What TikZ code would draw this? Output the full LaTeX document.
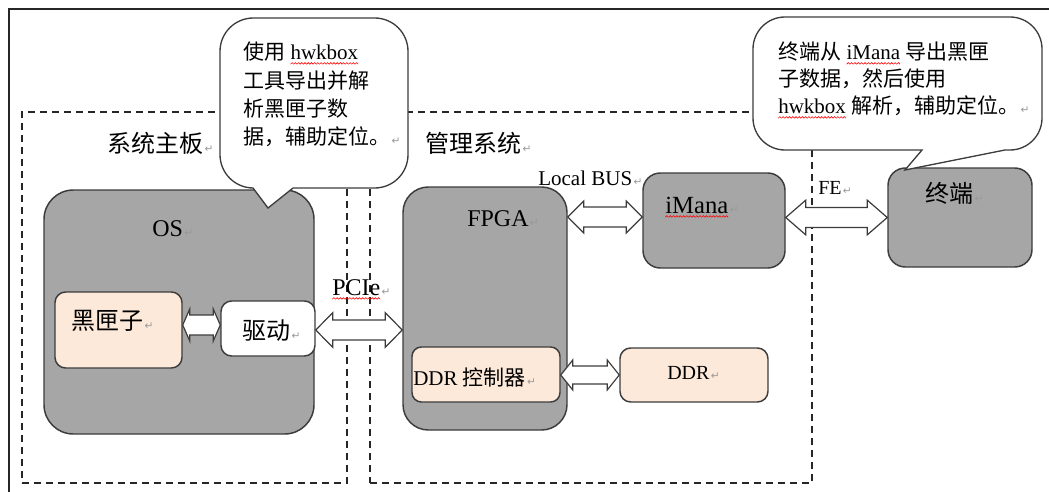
\documentclass[tikz,border=0pt]{standalone}
\usepackage{fontspec}
\setmainfont{Liberation Serif}
\newfontfamily\cjk{Noto Sans CJK SC}
\newfontfamily\sym{DejaVu Sans}
\usetikzlibrary{fit,calc}

\definecolor{boxgray}{HTML}{A6A6A6}
\definecolor{peach}{HTML}{FDE9D9}
\definecolor{edge}{HTML}{3C3C3C}

% red spell-check wave under a word
\newsavebox\wavebox
\newcommand\spell[1]{\setbox0=\hbox{#1}\leavevmode
  \rlap{\raisebox{-3.2pt}{\hbox to \wd0{\xleaders\copy\wavebox\hfil}}}\box0\relax}
% paragraph mark
\newcommand\pmk{\hspace{1pt}{\sym\color{black!40}\fontsize{8}{8}\selectfont ↵}}

% white double block arrow between two points at the height of the first
\newcommand\dbl[5]{%
  \draw[blockarrow] let \p1=(#1), \p2=(#2) in
    (\x1,\y1) -- (\x1+#5,\y1+#4) -- (\x1+#5,\y1+#3) -- (\x2-#5,\y1+#3)
    -- (\x2-#5,\y1+#4) -- (\x2,\y1) -- (\x2-#5,\y1-#4) -- (\x2-#5,\y1-#3)
    -- (\x1+#5,\y1-#3) -- (\x1+#5,\y1-#4) -- cycle;}

\tikzset{
  box/.style={draw=edge, line width=1.1pt, inner sep=0pt},
  graybox/.style={box, fill=boxgray},
  peachbox/.style={box, fill=peach},
  whitebox/.style={box, fill=white},
  region/.style={draw=black!85, line width=1.1pt, dash pattern=on 5.5pt off 3.5pt, inner sep=0pt},
  bubble/.style={draw=edge, line width=1pt, fill=white, line join=miter},
  blockarrow/.style={draw=edge, line width=0.9pt, fill=white, line join=miter},
  txt/.style={anchor=base west, inner sep=0pt},
  note/.style={anchor=north west, inner sep=0pt, align=left},
  fbig/.style={font=\fontsize{18}{21}\selectfont},
  fmid/.style={font=\fontsize{15.75}{19}\selectfont},
  fsmall/.style={font=\fontsize{15}{18}\selectfont},
}

\begin{document}
\sbox\wavebox{\pgfpicture
  \pgfsetlinewidth{0.45pt}\pgfsetstrokecolor{red}%
  \pgfpathmoveto{\pgfpoint{0pt}{0pt}}%
  \pgfpathlineto{\pgfpoint{1.2pt}{1.2pt}}%
  \pgfpathlineto{\pgfpoint{2.4pt}{0pt}}%
  \pgfusepath{stroke}%
  \pgfresetboundingbox
  \pgfpathrectangle{\pgfpointorigin}{\pgfpoint{2.4pt}{1.2pt}}%
  \pgfusepath{use as bounding box}%
  \endpgfpicture}%
\begin{tikzpicture}[x=0.75pt, y=-0.75pt]
\useasboundingbox (0,0) rectangle (1049,492);

% outer frame
\draw[line width=1.2pt, black!85] (9,492) -- (9,9) -- (1049,9);

% dashed regions
\node[region, fit={(22,112)(347,483)}] (board) {};
\node[region, fit={(370,112)(812,483)}] (mgmt) {};
\node[txt, fbig] (boardlbl) at (107,152) {{\cjk 系统主板}\pmk};
\node[txt, fbig] (mgmtlbl) at (425,152) {{\cjk 管理系统}\pmk};

% blocks
\node[graybox, rounded corners=22pt, fit={(44,190)(314,434)}] (os) {};
\node[peachbox, rounded corners=8pt, fit={(55,292)(182,368)}] (bb) {};
\node[whitebox, rounded corners=8pt, fit={(221,301)(315,356)}] (drv) {};
\node[graybox, rounded corners=19pt, fit={(403,187)(567,430)}] (fpga) {};
\node[peachbox, rounded corners=7pt, fit={(412,347)(560,402)}] (ddrc) {};
\node[peachbox, rounded corners=8pt, fit={(620,348)(768,402)}] (ddr) {};
\node[graybox, rounded corners=13pt, fit={(643,173)(785,268)}] (imana) {};
\node[graybox, rounded corners=13pt, fit={(888,168)(1032,267)}] (term) {};

% block labels
\node[txt, fbig] (oslbl) at (152,236) {OS\pmk};
\node[txt, fbig] (bblbl) at (71,329) {{\cjk 黑匣子}\pmk};
\node[txt, fbig] (drvlbl) at (242,339) {{\cjk 驱动}\pmk};
\node[txt, fbig] (fpgalbl) at (467,226) {FPGA\pmk};
\node[txt, fmid] (ddrclbl) at (413,385) {DDR {\cjk 控制器}\pmk};
\node[txt, fsmall] (ddrlbl) at (667,379) {DDR\pmk};
\node[txt, font=\fontsize{18.5}{21}\selectfont] (imanalbl) at (665,213) {\spell{iMana}\pmk};
\node[txt, fbig] (termlbl) at (925,202) {{\cjk 终端}\pmk};

% links
\dbl{$(bb.east |- drv.west)+(0,-3.5)$}{$(drv.west)+(0,-3.5)$}{7.5pt}{12pt}{5.25pt}
\dbl{$(drv.east)+(0,1.5)$}{$(fpga.west |- drv.east)+(0,1.5)$}{7.5pt}{13pt}{12.75pt}
\dbl{$(fpga.east |- imana.west)+(0,-3.5)$}{$(imana.west)+(0,-3.5)$}{7.5pt}{12pt}{12pt}
\dbl{imana.east |- term.west}{term.west}{7.5pt}{13pt}{15pt}
\dbl{ddrc.east |- ddr.west}{ddr.west}{6.75pt}{11.25pt}{9pt}

% link labels
\node[txt, fbig] (pcielbl) at (332,295) {\spell{PCIe}\pmk};
\node[txt, fmid] (buslbl) at (538,185) {Local BUS\pmk};
\node[txt, fsmall] (felbl) at (818,194) {FE\pmk};

% callouts (a corner is rounded by the setting in force on its incoming side)
\draw[bubble] (408,100) [rounded corners=25pt] -- (408,18) -- (220,18) -- (220,188)
  [sharp corners] -- (253,188) -- (268,208) -- (293,188)
  [rounded corners=25pt] -- (408,188) -- cycle;
\node[note, font=\fontsize{15.75}{21.2}\selectfont] (note1) at (243,42)
  {{\cjk 使用} \spell{hwkbox}\\{\cjk 工具导出并解}\\{\cjk 析黑匣子数}\\{\cjk 据，辅助定位。}\pmk};

\draw[bubble] (1042,80) [rounded corners=24pt] -- (1042,17) -- (753,17) -- (753,150)
  [sharp corners] -- (922,150) -- (905,170) -- (1005,150)
  [rounded corners=24pt] -- (1042,150) -- cycle;
\node[note, font=\fontsize{15.75}{20.25}\selectfont] (note2) at (778,42)
  {{\cjk 终端从} \spell{iMana} {\cjk 导出黑匣}\\{\cjk 子数据，然后使用}\\\spell{hwkbox} {\cjk 解析，辅助定位。}\pmk};
\end{tikzpicture}
\end{document}
